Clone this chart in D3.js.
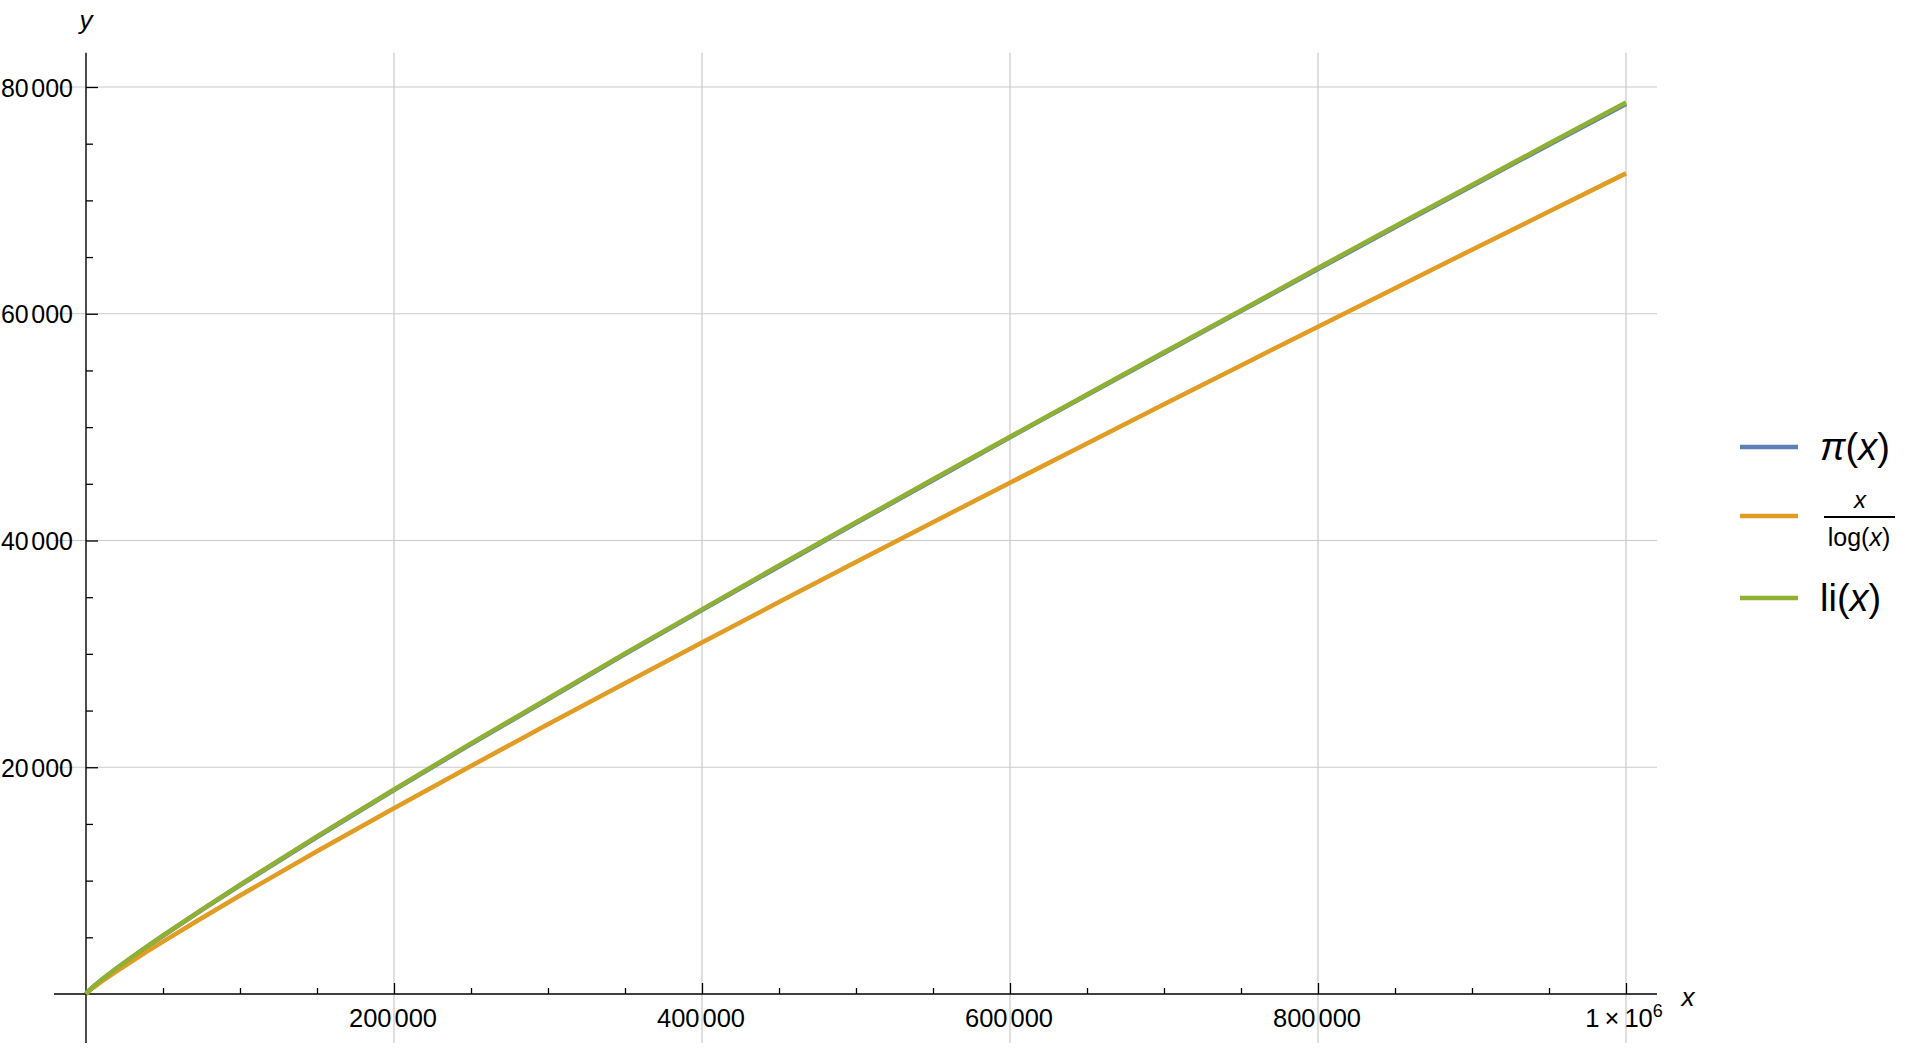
<!DOCTYPE html>
<html>
<head>
<meta charset="utf-8">
<script src="https://cdn.jsdelivr.net/npm/d3@7"></script>
<style>
html,body{margin:0;padding:0;background:#fff;}
svg{display:block;}
text{font-family:"Liberation Sans",Arial,Helvetica,sans-serif;fill:#000;}
</style>
</head>
<body>
<svg id="chart" width="1920" height="1049"></svg>
<script>
// ---- data ----
const xs = [2, 1000, 5000, 10000, 20000, 30000, 40000, 50000, 75000, 100000, 150000, 200000, 250000, 300000, 350000, 400000, 450000, 500000, 550000, 600000, 650000, 700000, 750000, 800000, 850000, 900000, 950000, 1000000];
const piValues = [1, 168, 669, 1229, 2262, 3245, 4203, 5133, 7393, 9592, 13848, 17984, 22044, 25997, 29977, 33860, 37706, 41538, 45322, 49098, 52831, 56543, 60238, 63951, 67617, 71274, 74907, 78498];
const xLogValues = [2.9, 145, 587, 1086, 2019, 2910, 3775, 4621, 6681, 8686, 12586, 16385, 20114, 23788, 27417, 31010, 34570, 38103, 41611, 45097, 48563, 52011, 55441, 58856, 62258, 65645, 69020, 72382];
const liValues = [1, 178, 684, 1246, 2288, 3274, 4231, 5167, 7424, 9630, 13898, 18036, 22104, 26069, 30047, 33922, 37796, 41606, 45397, 49150, 52886, 56603, 60283, 64041, 67712, 71364, 75017, 78627];
const xMajorTicks = [200000, 400000, 600000, 800000, 1000000];
const xTickLabels = [["200","000"], ["400","000"], ["600","000"], ["800","000"], null];
const yMajorTicks = [20000, 40000, 60000, 80000];
const yTickLabels = [["20","000"], ["40","000"], ["60","000"], ["80","000"]];
const seriesNames = ["pi", "xlog", "li"];
const seriesColors = ["#5E81B5", "#E19C24", "#8FB032"];

// ---- scales ----
const svg = d3.select("#chart");
const x = d3.scaleLinear().domain([0, 1000000]).range([86, 1626]);
const y = d3.scaleLinear().domain([0, 80000]).range([994, 87]);
const xMin = -20800, xMax = 1020100, yMin = -4330, yMax = 83030;

// ---- grid ----
const grid = svg.append("g").attr("stroke", "#cacaca").attr("stroke-width", 1.2);
xMajorTicks.forEach(t => grid.append("line").attr("x1", x(t)).attr("x2", x(t)).attr("y1", y(yMax)).attr("y2", y(yMin)));
yMajorTicks.forEach(t => grid.append("line").attr("y1", y(t)).attr("y2", y(t)).attr("x1", x(xMin)).attr("x2", x(xMax)));

// ---- axes ----
const xMinor = d3.range(50000, 1000001, 50000).filter(v => !xMajorTicks.includes(v));
const yMinor = d3.range(5000, 80001, 5000).filter(v => !yMajorTicks.includes(v));
const xAxisMajor = d3.axisTop(x).tickValues(xMajorTicks).tickSize(11).tickFormat("");
const xAxisMinor = d3.axisTop(x).tickValues(xMinor).tickSize(6).tickFormat("");
const yAxisMajor = d3.axisRight(y).tickValues(yMajorTicks).tickSize(12).tickFormat("");
const yAxisMinor = d3.axisRight(y).tickValues(yMinor).tickSize(7).tickFormat("");
[[xAxisMajor, `translate(0,${y(0)})`], [xAxisMinor, `translate(0,${y(0)})`],
 [yAxisMajor, `translate(${x(0)},0)`], [yAxisMinor, `translate(${x(0)},0)`]].forEach(([ax, tr]) => {
  const g = svg.append("g").attr("transform", tr).call(ax);
  g.select(".domain").remove();
  g.selectAll(".tick line").attr("stroke", "#000").attr("stroke-width", 1.3);
});
svg.append("line").attr("x1", x(xMin)).attr("x2", x(xMax)).attr("y1", y(0)).attr("y2", y(0)).attr("stroke", "#000").attr("stroke-width", 1.4);
svg.append("line").attr("x1", x(0)).attr("x2", x(0)).attr("y1", y(yMax)).attr("y2", y(yMin)).attr("stroke", "#000").attr("stroke-width", 1.4);

// tick labels
xMajorTicks.forEach((t, i) => {
  const lab = xTickLabels[i];
  const tx = svg.append("text").attr("x", x(t) - 1).attr("y", 1027).attr("text-anchor", "middle").style("font-size", "25.5px");
  if (lab) {
    tx.append("tspan").text(lab[0]);
    tx.append("tspan").attr("dx", 3).text(lab[1]);
  } else {
    tx.attr("x", x(t) - 2);
    tx.append("tspan").text("1\u2009\u00d7\u200910");
    tx.append("tspan").attr("dy", -10).style("font-size", "18px").text("6");
  }
});
yMajorTicks.forEach((t, i) => {
  const lab = yTickLabels[i];
  const tx = svg.append("text").attr("x", 73).attr("y", y(t) + 9.5).attr("text-anchor", "end").style("font-size", "25px");
  tx.append("tspan").text(lab[0]);
  tx.append("tspan").attr("dx", 2.5).text(lab[1]);
});
// axis labels
svg.append("text").attr("x", 1688).attr("y", 1006).attr("text-anchor", "middle").style("font-size", "26px").style("font-style", "italic").text("x");
svg.append("text").attr("x", 86).attr("y", 29).attr("text-anchor", "middle").style("font-size", "26px").style("font-style", "italic").text("y");

// ---- lines ----
const allSeries = [piValues, xLogValues, liValues];
const line = d3.line().x(d => x(d[0])).y(d => y(d[1]));
allSeries.forEach((vals, i) => {
  svg.append("path")
    .datum(xs.map((xv, j) => [xv, vals[j]]))
    .attr("class", "series-" + seriesNames[i])
    .attr("fill", "none")
    .attr("stroke", seriesColors[i])
    .attr("stroke-width", 4.5)
    .attr("stroke-linejoin", "round")
    .attr("d", line);
});

// ---- legend ----
const legendY = [447, 516, 598];
const leg = svg.append("g");
legendY.forEach((ly, i) => {
  leg.append("line").attr("x1", 1740).attr("x2", 1798).attr("y1", ly).attr("y2", ly)
    .attr("stroke", seriesColors[i]).attr("stroke-width", 4.5);
});
// pi(x)
const t1 = leg.append("text").attr("x", 1820).attr("y", 460).style("font-size", "38px");
t1.append("tspan").style("font-style", "italic").text("\u03c0");
t1.append("tspan").text("(");
t1.append("tspan").style("font-style", "italic").text("x");
t1.append("tspan").text(")");
// x / log(x)
leg.append("text").attr("x", 1860).attr("y", 508).attr("text-anchor", "middle").style("font-size", "24px").style("font-style", "italic").text("x");
leg.append("line").attr("x1", 1824).attr("x2", 1895).attr("y1", 517).attr("y2", 517).attr("stroke", "#000").attr("stroke-width", 1.8);
const t2 = leg.append("text").attr("x", 1859).attr("y", 546).attr("text-anchor", "middle").style("font-size", "25px");
t2.append("tspan").text("log(");
t2.append("tspan").style("font-style", "italic").text("x");
t2.append("tspan").text(")");
// li(x)
const t3 = leg.append("text").attr("x", 1820).attr("y", 611).style("font-size", "38px");
t3.append("tspan").text("li(");
t3.append("tspan").style("font-style", "italic").text("x");
t3.append("tspan").text(")");
</script>
</body>
</html>
